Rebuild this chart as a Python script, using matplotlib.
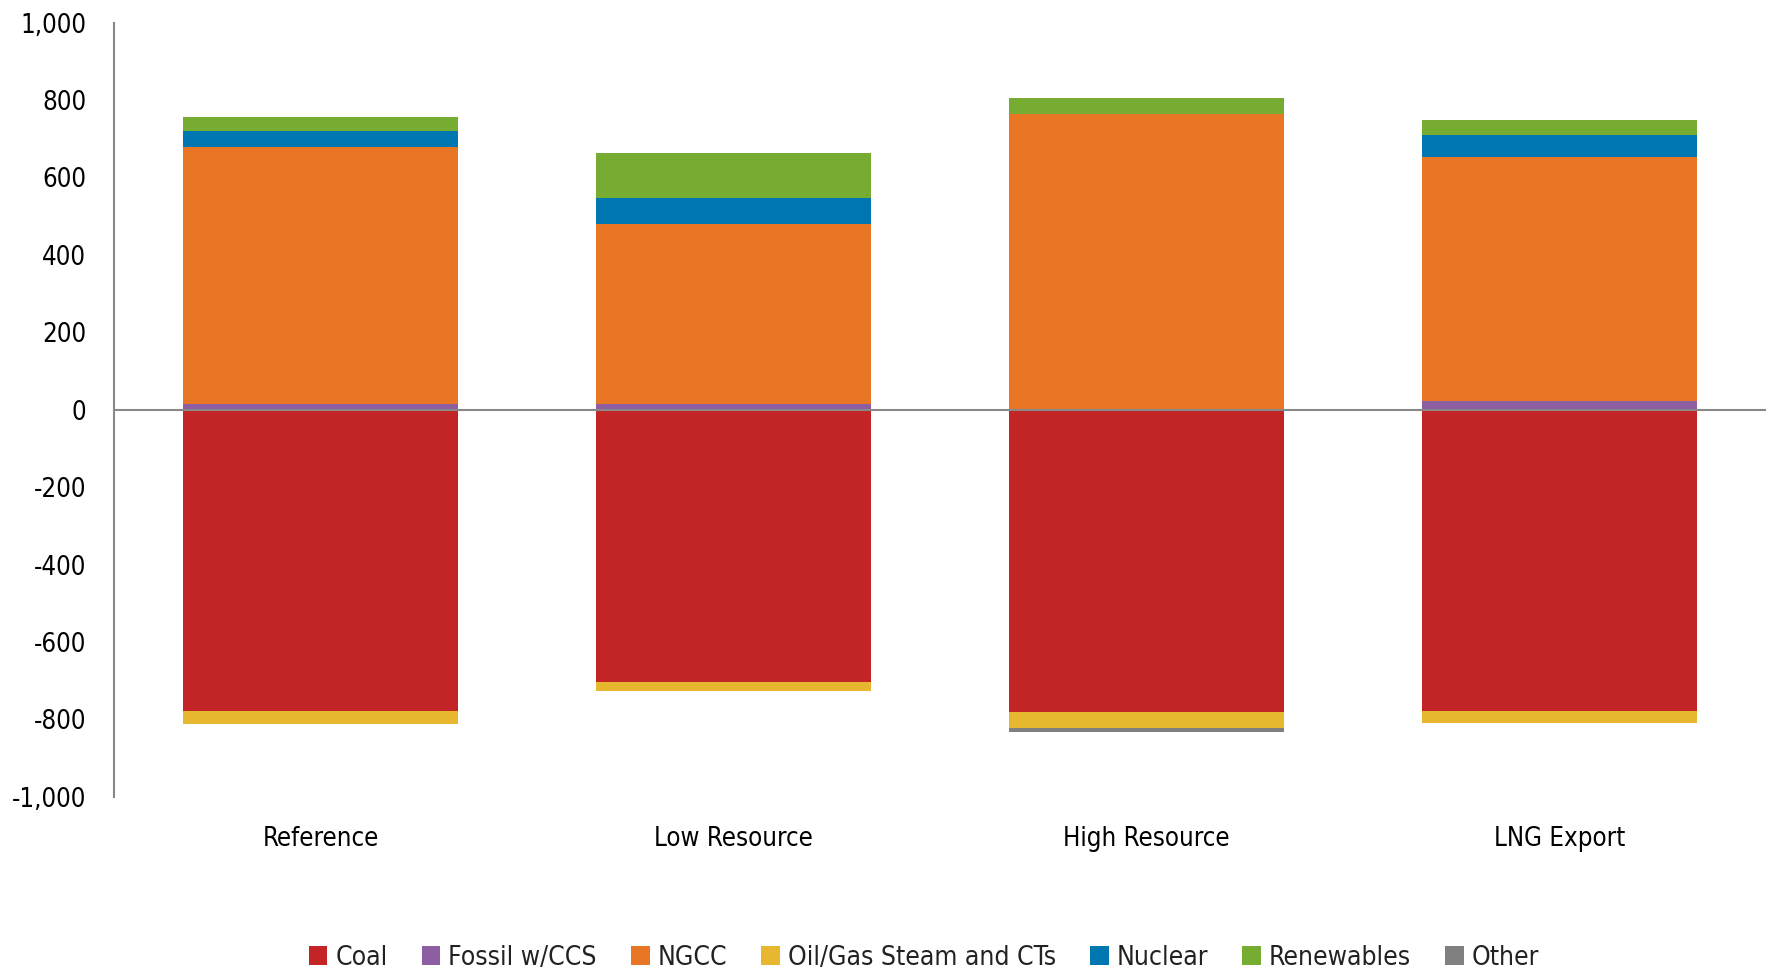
import matplotlib
matplotlib.use("Agg")
import matplotlib.pyplot as plt
import numpy as np

categories = ["Reference", "Low Resource", "High Resource", "LNG Export"]
coal = [-779, -704, -781, -779]
fossil_ccs = [16, 14, 1, 22]
ngcc = [662, 465, 762, 631]
oilgas = [-34, -22, -41, -29]
nuclear = [42, 68, 0, 57]
renewables = [36, 115, 41, 38]
other = [0, 0, -10, 0]
yticks = [-1000, -800, -600, -400, -200, 0, 200, 400, 600, 800, 1000]

series = [("Coal", coal, "#C32526"),
          ("Fossil w/CCS", fossil_ccs, "#8E5EA2"),
          ("NGCC", ngcc, "#E87625"),
          ("Oil/Gas Steam and CTs", oilgas, "#E8B730"),
          ("Nuclear", nuclear, "#0077B0"),
          ("Renewables", renewables, "#76AC32"),
          ("Other", other, "#808080")]

plt.rcParams['font.family'] = ["DejaVu Sans"]
plt.rcParams['font.stretch'] = 'condensed'
plt.rcParams['text.color'] = "#222222"

fig = plt.figure(figsize=(17.7, 9.73), dpi=100)
ax = fig.add_axes([0.0644, 0.181, 0.9333, 0.7958])

x = np.arange(len(categories))
pos_base = np.zeros(len(categories))
neg_base = np.zeros(len(categories))
handles = []
for name, vals, col in series:
    v = np.array(vals, dtype=float)
    bottoms = np.where(v >= 0, pos_base, neg_base)
    h = ax.bar(x, v, 0.665, bottom=bottoms, color=col, edgecolor="none", label=name)
    pos_base = pos_base + np.where(v >= 0, v, 0)
    neg_base = neg_base + np.where(v < 0, v, 0)
    handles.append(h)

ax.set_xlim(-0.5, 3.5)
ax.set_ylim(-1000, 1000)
ax.set_yticks(yticks)
ax.set_yticklabels([f"{t:,}" for t in yticks], fontsize=18.5)
ax.set_xticks(x)
ax.set_xticklabels(categories, fontsize=18.5)
ax.tick_params(axis='both', length=0)
ax.tick_params(axis='x', pad=21)
ax.tick_params(axis='y', pad=20)
for s in ["top", "right", "bottom"]:
    ax.spines[s].set_visible(False)
ax.spines["left"].set_color("#888888")
ax.spines["left"].set_linewidth(1.5)
ax.axhline(0, color="#888888", linewidth=1.5, zorder=3)

fig.legend(handles=handles, labels=[s[0] for s in series], loc="lower center",
           bbox_to_anchor=(0.522, -0.022), ncol=7, frameon=False, fontsize=19,
           handlelength=0.7, handleheight=0.7, handletextpad=0.3, columnspacing=1.3)

fig.savefig("out.png", dpi=100)
